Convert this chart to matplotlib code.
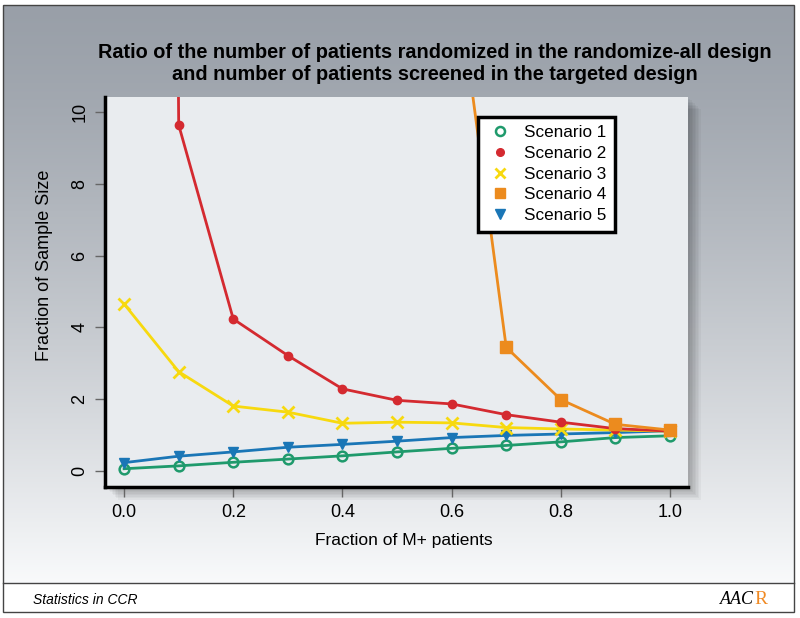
import numpy as np
import matplotlib
matplotlib.use("Agg")
import matplotlib.pyplot as plt
from matplotlib.lines import Line2D
from matplotlib.patches import Rectangle

plt.rcParams['font.family'] = ['Liberation Sans', 'DejaVu Sans']

# data
frac = [0.0, 0.1, 0.2, 0.3, 0.4, 0.5, 0.6, 0.7, 0.8, 0.9, 1.0]
scen1 = [0.05, 0.13, 0.23, 0.32, 0.41, 0.52, 0.62, 0.70, 0.80, 0.92, 0.97]
scen2 = [200.0, 9.65, 4.23, 3.21, 2.28, 1.96, 1.86, 1.56, 1.35, 1.17, 1.10]
scen3 = [4.65, 2.76, 1.80, 1.63, 1.32, 1.35, 1.33, 1.20, 1.16, 1.13, 1.10]
frac4 = [0.6, 0.7, 0.8, 0.9, 1.0]
scen4 = [14.9, 3.44, 1.98, 1.29, 1.13]
scen5 = [0.22, 0.40, 0.52, 0.65, 0.73, 0.82, 0.92, 0.98, 1.02, 1.06, 1.11]

labels = ['Scenario 1', 'Scenario 2', 'Scenario 3', 'Scenario 4', 'Scenario 5']
colors = ['#1f9a6c', '#d42a30', '#f7d90f', '#ec8b1e', '#1a76b6']

W, H = 800, 618
fig = plt.figure(figsize=(8, 6.18), dpi=100)
fig.patch.set_facecolor('white')

# gradient background inside the frame
bg = fig.add_axes([3 / W, 1 - 583 / H, 791 / W, 578 / H], zorder=-10)
t = np.linspace(0, 1, 256) ** 1.3
top = np.array([0.60, 0.625, 0.66])
bot = np.array([0.975, 0.98, 0.985])
grad = top[None, :] * (1 - t[:, None]) + bot[None, :] * t[:, None]
bg.imshow(grad[:, None, :], aspect='auto', extent=[0, 1, 0, 1])
bg.axis('off')

# frame and footer
fig.patches.append(Rectangle((3 / W, 1 - 612 / H), 791 / W, 607 / H, transform=fig.transFigure,
                             fill=False, edgecolor='#444444', lw=1.0, zorder=-5))
fig.lines.append(Line2D([3 / W, 794 / W], [1 - 583 / H, 1 - 583 / H], transform=fig.transFigure,
                        color='#444444', lw=1.0))
fig.text(33 / W, 1 - 600 / H, 'Statistics in CCR', style='italic', fontsize=10, va='center', ha='left')
fig.text(754 / W, 1 - 599 / H, 'AAC', family='Liberation Serif', style='italic', fontsize=13,
         va='center', ha='right', color='black')
fig.text(754 / W, 1 - 599 / H, 'R', family='Liberation Serif', fontsize=14,
         va='center', ha='left', color='#f08a24')

# panel shadow
for i in range(8):
    off = 2 + i * 1.5
    fig.patches.append(Rectangle(((105 + off) / W, 1 - (487 + off) / H), 583 / W, 390 / H,
                                 transform=fig.transFigure, facecolor='black', alpha=0.035,
                                 edgecolor='none', zorder=-4))

ax = fig.add_axes([105 / W, 1 - 487 / H, 583 / W, 390 / H])
ax.set_facecolor('#e9ecef')

ax.plot(frac, scen1, color=colors[0], lw=2, marker='o', ms=7, mfc='none', mew=1.8)
ax.plot(frac, scen5, color=colors[4], lw=2, marker='v', ms=7)
ax.plot(frac, scen3, color=colors[2], lw=2, marker='x', ms=8, mew=2)
ax.plot(frac, scen2, color=colors[1], lw=2, marker='o', ms=6)
ax.plot(frac4, scen4, color=colors[3], lw=2, marker='s', ms=8)

ax.set_xlim(-0.035, 1.033)
ax.set_ylim(-0.46, 10.43)
ax.set_xticks([0.0, 0.2, 0.4, 0.6, 0.8, 1.0])
ax.set_xticklabels(['0.0', '0.2', '0.4', '0.6', '0.8', '1.0'])
ax.set_yticks([0, 2, 4, 6, 8, 10])
for lab in ax.get_yticklabels():
    lab.set_rotation(90)
    lab.set_va('center')
ax.tick_params(direction='out', length=7, width=1, color='#666666', labelsize=13, pad=5)

for s in ['top', 'right']:
    ax.spines[s].set_visible(False)
for s in ['left', 'bottom']:
    ax.spines[s].set_linewidth(2.5)

ax.set_xlabel('Fraction of M+ patients', fontsize=12.5)
ax.xaxis.set_label_coords(0.513, -0.136)
ax.xaxis.label.set_va('center')
ax.set_ylabel('Fraction of Sample Size', fontsize=13)
ax.yaxis.set_label_coords(-0.103, 0.569)
ax.yaxis.label.set_va('center')

fig.text(435 / W, 1 - 64 / H,
         'Ratio of the number of patients randomized in the randomize-all design\n'
         'and number of patients screened in the targeted design',
         ha='center', va='center', fontsize=14.3, fontweight='bold', linespacing=1.2)

handles = [
    Line2D([], [], ls='none', marker='o', color=colors[0], mfc='none', ms=6.5, mew=1.8),
    Line2D([], [], ls='none', marker='o', color=colors[1], ms=5.5),
    Line2D([], [], ls='none', marker='x', color=colors[2], ms=7.5, mew=2),
    Line2D([], [], ls='none', marker='s', color=colors[3], ms=7.5),
    Line2D([], [], ls='none', marker='v', color=colors[4], ms=7.5),
]
leg = ax.legend(handles, labels, loc='upper left', bbox_to_anchor=(0.64, 0.949), borderaxespad=0,
                fontsize=12.3, fancybox=False, framealpha=1, edgecolor='black',
                handlelength=1.6, handletextpad=0.6, labelspacing=0.33, borderpad=0.5)
leg.get_frame().set_linewidth(2.5)

fig.savefig('out.png', dpi=100)
